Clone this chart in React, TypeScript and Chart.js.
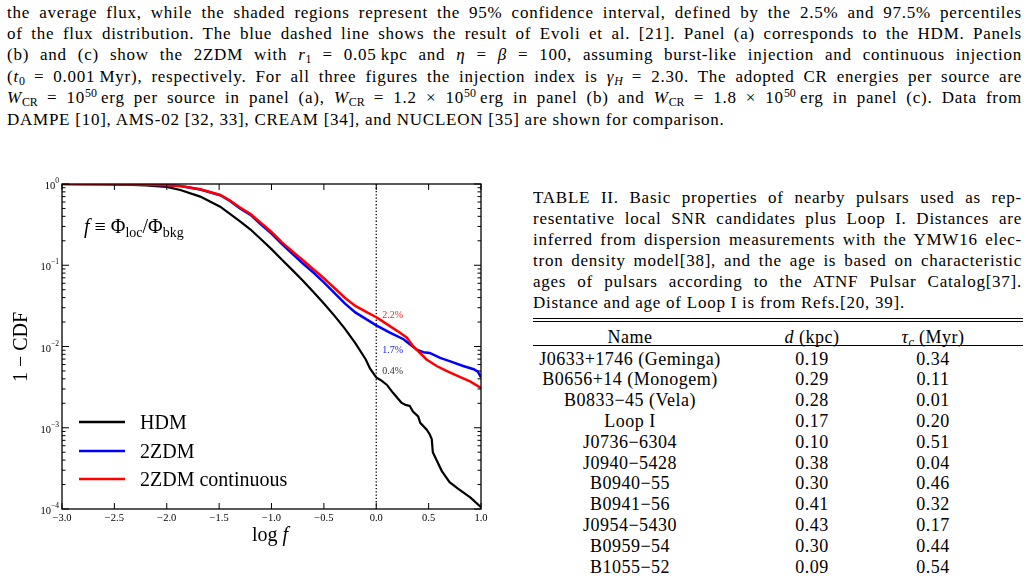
import React, { useEffect, useRef } from "react";
import { Chart, registerables } from "chart.js";

Chart.register(...registerables);

// ---- Data: log f (x) and 1 - CDF (y) for each model ----
const hdmX = [-3.0, -2.6, -2.4, -2.2, -2.0, -1.87, -1.68, -1.49, -1.3, -1.2, -1.1, -1.0, -0.9, -0.8, -0.7, -0.6, -0.5, -0.4, -0.3, -0.2, -0.1, -0.06, 0.0, 0.05, 0.1, 0.16, 0.2, 0.24, 0.28, 0.32, 0.35, 0.4, 0.42, 0.48, 0.51, 0.53, 0.54, 0.58, 0.625, 0.7, 0.78, 0.9, 1.0];
const hdmY = [1, 0.993, 0.982, 0.959, 0.923, 0.843, 0.7, 0.525, 0.347, 0.275, 0.209, 0.158, 0.117, 0.0871, 0.0646, 0.0468, 0.0339, 0.024, 0.0166, 0.011, 0.00692, 0.00537, 0.00417, 0.0038, 0.00339, 0.00269, 0.00234, 0.00204, 0.00191, 0.00186, 0.00158, 0.00138, 0.00115, 0.000955, 0.000832, 0.000724, 0.000501, 0.000389, 0.000295, 0.000214, 0.000178, 0.000138, 0.000105];

const zdmX = [-3.0, -2.5, -2.2, -2.0, -1.87, -1.68, -1.49, -1.4, -1.3, -1.2, -1.1, -1.0, -0.9, -0.8, -0.7, -0.6, -0.5, -0.4, -0.3, -0.2, -0.1, 0.0, 0.13, 0.26, 0.386, 0.45, 0.51, 0.61, 0.7, 0.83, 0.93, 0.97, 1.0];
const zdmY = [1, 0.995, 0.986, 0.966, 0.942, 0.857, 0.728, 0.624, 0.501, 0.417, 0.316, 0.245, 0.182, 0.138, 0.105, 0.0813, 0.0617, 0.0457, 0.0339, 0.0263, 0.0219, 0.0182, 0.0148, 0.0123, 0.00912, 0.00851, 0.00832, 0.00724, 0.00661, 0.00575, 0.00525, 0.0049, 0.00417];

const zdmContX = [-3.0, -2.5, -2.2, -2.0, -1.87, -1.68, -1.49, -1.4, -1.3, -1.2, -1.1, -1.0, -0.9, -0.8, -0.7, -0.6, -0.5, -0.4, -0.3, -0.2, -0.1, 0.0, 0.036, 0.13, 0.227, 0.29, 0.354, 0.418, 0.48, 0.577, 0.67, 0.77, 0.895, 1.0];
const zdmContY = [1, 0.995, 0.986, 0.966, 0.944, 0.861, 0.733, 0.631, 0.513, 0.427, 0.331, 0.257, 0.191, 0.148, 0.115, 0.0891, 0.0692, 0.0525, 0.0398, 0.0316, 0.0269, 0.0229, 0.0214, 0.0178, 0.0148, 0.0129, 0.01, 0.00832, 0.00692, 0.00575, 0.00501, 0.00437, 0.00372, 0.00309];

// Vertical reference at log f = 0
const refLineX = [0, 0];
const refLineY = [0.0001, 1];

// Axis ticks
const xTickValues = [-3.0, -2.5, -2.0, -1.5, -1.0, -0.5, 0.0, 0.5, 1.0];
const xTickLabels = ["\u22123.0", "\u22122.5", "\u22122.0", "\u22121.5", "\u22121.0", "\u22120.5", "0.0", "0.5", "1.0"];
const yTickValues = [1, 0.1, 0.01, 0.001, 0.0001];
const yTickExponents = ["0", "\u22121", "\u22122", "\u22123", "\u22124"];
const yMinorMultipliers = [2, 3, 4, 5, 6, 7, 8, 9];

// Legend & value labels
const seriesNames = ["HDM", "2ZDM", "2ZDM continuous"];
const seriesColors = ["#000000", "#0000ff", "#ff0000"];
const fractionLabels = ["2.2%", "1.7%", "0.4%"];
const fractionColors = ["#ff2020", "#2020ff", "#333333"];

// Table
const pulsarNames = [
  "J0633+1746 (Geminga)",
  "B0656+14 (Monogem)",
  "B0833\u221245 (Vela)",
  "Loop I",
  "J0736\u22126304",
  "J0940\u22125428",
  "B0940\u221255",
  "B0941\u221256",
  "J0954\u22125430",
  "B0959\u221254",
  "B1055\u221252",
];
const pulsarDist = ["0.19", "0.29", "0.28", "0.17", "0.10", "0.38", "0.30", "0.41", "0.43", "0.30", "0.09"];
const pulsarAge = ["0.34", "0.11", "0.01", "0.20", "0.51", "0.04", "0.46", "0.32", "0.17", "0.44", "0.54"];

const SERIF = "'Liberation Serif', 'Times New Roman', serif";

const pts = (xs: number[], ys: number[]) => xs.map((x, i) => ({ x, y: ys[i] }));

const decorPlugin = {
  id: "decor",
  afterDatasetsDraw(chart: any) {
    const { ctx, chartArea: a, scales } = chart;
    const xs = scales.x;
    const ys = scales.y;
    const seg = (x1: number, y1: number, x2: number, y2: number) => {
      ctx.beginPath();
      ctx.moveTo(x1, y1);
      ctx.lineTo(x2, y2);
      ctx.stroke();
    };
    ctx.save();
    ctx.strokeStyle = "#000";
    ctx.fillStyle = "#000";
    ctx.lineWidth = 1.3;
    ctx.strokeRect(a.left, a.top, a.right - a.left, a.bottom - a.top);
    ctx.lineWidth = 1;

    // x ticks (inward, bottom and top) and labels
    ctx.font = `10.5px ${SERIF}`;
    ctx.textAlign = "center";
    ctx.textBaseline = "alphabetic";
    xTickValues.forEach((v, i) => {
      const px = xs.getPixelForValue(v);
      seg(px, a.bottom, px, a.bottom - 6);
      seg(px, a.top, px, a.top + 6);
      ctx.fillText(xTickLabels[i], px, a.bottom + 12);
    });

    // y ticks: decades and minor ticks, both sides
    yTickValues.forEach((v, i) => {
      const py = ys.getPixelForValue(v);
      seg(a.left, py, a.left + 7, py);
      seg(a.right, py, a.right - 7, py);
      if (i > 0) {
        yMinorMultipliers.forEach((m) => {
          const pm = ys.getPixelForValue(m * v);
          seg(a.left, pm, a.left + 3.5, pm);
          seg(a.right, pm, a.right - 3.5, pm);
        });
      }
      // label 10^n
      ctx.font = `7.5px ${SERIF}`;
      const ew = ctx.measureText(yTickExponents[i]).width;
      const xEnd = a.left - 3;
      ctx.textAlign = "left";
      ctx.fillText(yTickExponents[i], xEnd - ew, py - 1);
      ctx.font = `10.5px ${SERIF}`;
      ctx.textAlign = "right";
      ctx.fillText("10", xEnd - ew, py + 5);
    });

    // axis titles
    ctx.font = `20px ${SERIF}`;
    ctx.textAlign = "center";
    ctx.save();
    ctx.translate(27, 177);
    ctx.rotate(-Math.PI / 2);
    ctx.fillText("1 \u2212 CDF", 0, 0);
    ctx.restore();

    ctx.textAlign = "left";
    ctx.font = `20px ${SERIF}`;
    const logW = ctx.measureText("log ").width;
    ctx.font = `italic 20px ${SERIF}`;
    const fW = ctx.measureText("f").width;
    const lx = 270 - (logW + fW) / 2;
    ctx.font = `20px ${SERIF}`;
    ctx.fillText("log ", lx, 371);
    ctx.font = `italic 20px ${SERIF}`;
    ctx.fillText("f", lx + logW, 371);

    // f ≡ Φloc / Φbkg
    let cx = 84;
    const by = 63;
    const piece = (t: string, font: string, dy = 0) => {
      ctx.font = font;
      ctx.fillText(t, cx, by + dy);
      cx += ctx.measureText(t).width;
    };
    piece("f", `italic 20px ${SERIF}`);
    piece(" \u2261 ", `20px ${SERIF}`);
    piece("\u03A6", `20px ${SERIF}`);
    piece("loc", `14px ${SERIF}`, 4);
    piece("/\u03A6", `20px ${SERIF}`);
    piece("bkg", `14px ${SERIF}`, 4);

    // percentage labels at log f = 0
    const fx = xs.getPixelForValue(0) + 6;
    const fy = [148, 183, 204];
    ctx.font = `10px ${SERIF}`;
    fractionLabels.forEach((t, i) => {
      ctx.fillStyle = fractionColors[i];
      ctx.fillText(t, fx, fy[i]);
    });

    // legend
    const ly = [252, 281, 309];
    ctx.lineWidth = 2.5;
    ctx.font = `20px ${SERIF}`;
    seriesNames.forEach((n, i) => {
      ctx.strokeStyle = seriesColors[i];
      seg(79, ly[i], 125, ly[i]);
      ctx.fillStyle = "#000";
      ctx.fillText(n, 140, ly[i] + 7);
    });
    ctx.restore();
  },
};

function CdfChart() {
  const ref = useRef<HTMLCanvasElement>(null);
  useEffect(() => {
    const chart = new Chart(ref.current as HTMLCanvasElement, {
      type: "line",
      data: {
        datasets: [
          { label: seriesNames[2], data: pts(zdmContX, zdmContY), borderColor: seriesColors[2], borderWidth: 2.5 },
          { label: seriesNames[1], data: pts(zdmX, zdmY), borderColor: seriesColors[1], borderWidth: 2.5 },
          { label: seriesNames[0], data: pts(hdmX, hdmY), borderColor: seriesColors[0], borderWidth: 2.2 },
          { label: "ref", data: pts(refLineX, refLineY), borderColor: "#000", borderWidth: 1.3, borderDash: [1.3, 2] },
        ] as any,
      },
      options: {
        responsive: false,
        animation: false,
        devicePixelRatio: 1,
        layout: { padding: { left: 62, top: 14, right: 19, bottom: 41 } },
        elements: { point: { radius: 0 }, line: { tension: 0, fill: false } },
        plugins: { legend: { display: false }, tooltip: { enabled: false } },
        scales: {
          x: { type: "linear", min: -3, max: 1, display: false },
          y: { type: "logarithmic", min: 0.0001, max: 1, display: false },
        },
      } as any,
      plugins: [decorPlugin],
    });
    return () => chart.destroy();
  }, []);
  return (
    <canvas
      ref={ref}
      width={500}
      height={380}
      style={{ position: "absolute", left: 0, top: 170, width: 500, height: 380 }}
    />
  );
}

const subS: React.CSSProperties = { fontSize: "0.7em", verticalAlign: "-0.25em", lineHeight: 0, letterSpacing: 0 };
const supS: React.CSSProperties = { fontSize: "0.7em", verticalAlign: "0.5em", lineHeight: 0, letterSpacing: 0 };

function Line(props: { top: number; left: number; width: number; last?: boolean; children: React.ReactNode }) {
  return (
    <div
      style={{
        position: "absolute",
        top: props.top,
        left: props.left,
        width: props.width,
        height: 21,
        lineHeight: "21px",
        fontSize: 17,
        letterSpacing: "0.75px",
        textAlign: props.last ? "left" : "justify",
        textAlignLast: props.last ? "auto" : "justify",
        whiteSpace: "normal",
      }}
    >
      {props.children}
    </div>
  );
}

const W = () => (
  <>
    <i>W</i>
    <sub style={subS}>CR</sub>
  </>
);

export default function App() {
  const bodyTop = 1.5;
  const pitch = 21.4;
  const capTop = 186.5;
  const rowTop = 348.5;
  const rowPitch = 20.8;
  return (
    <div
      style={{
        position: "absolute",
        left: 0,
        top: 0,
        width: 1029,
        height: 583,
        overflow: "hidden",
        background: "#fff",
        color: "#000",
        fontFamily: SERIF,
      }}
    >
      <Line top={bodyTop} left={7} width={1015}>
        the average flux, while the shaded regions represent the 95% confidence interval, defined by the 2.5% and 97.5% percentiles
      </Line>
      <Line top={bodyTop + pitch} left={7} width={1015}>
        of the flux distribution. The blue dashed line shows the result of Evoli et al. [21]. Panel (a) corresponds to the HDM. Panels
      </Line>
      <Line top={bodyTop + 2 * pitch} left={7} width={1015}>
        (b) and (c) show the 2ZDM with <i>r</i>
        <sub style={subS}>1</sub> = 0.05{"\u2009"}kpc and <i>{"\u03B7"}</i> = <i>{"\u03B2"}</i> = 100, assuming burst-like injection and continuous injection
      </Line>
      <Line top={bodyTop + 3 * pitch} left={7} width={1015}>
        (<i>t</i>
        <sub style={subS}>0</sub> = 0.001{"\u2009"}Myr), respectively. For all three figures the injection index is <i>{"\u03B3"}</i>
        <sub style={subS}>
          <i>H</i>
        </sub>{" "}
        = 2.30. The adopted CR energies per source are
      </Line>
      <Line top={bodyTop + 4 * pitch} left={7} width={1015}>
        <W /> = 10<sup style={supS}>50</sup>
        {"\u2009"}erg per source in panel (a), <W /> = 1.2 × 10<sup style={supS}>50</sup>
        {"\u2009"}erg in panel (b) and <W /> = 1.8 × 10<sup style={supS}>50</sup>
        {"\u2009"}erg in panel (c). Data from
      </Line>
      <Line top={bodyTop + 5 * pitch} left={7} width={1015} last>
        DAMPE [10], AMS-02 [32, 33], CREAM [34], and NUCLEON [35] are shown for comparison.
      </Line>

      <CdfChart />

      <Line top={capTop} left={533} width={489}>
        TABLE II. Basic properties of nearby pulsars used as rep-
      </Line>
      <Line top={capTop + 21} left={533} width={489}>
        resentative local SNR candidates plus Loop I. Distances are
      </Line>
      <Line top={capTop + 42} left={533} width={489}>
        inferred from dispersion measurements with the YMW16 elec-
      </Line>
      <Line top={capTop + 63} left={533} width={489}>
        tron density model[38], and the age is based on characteristic
      </Line>
      <Line top={capTop + 84} left={533} width={489}>
        ages of pulsars according to the ATNF Pulsar Catalog[37].
      </Line>
      <Line top={capTop + 105} left={533} width={489} last>
        Distance and age of Loop I is from Refs.[20, 39].
      </Line>

      <div style={{ position: "absolute", left: 533, top: 318, width: 490, height: 1, background: "#000" }} />
      <div style={{ position: "absolute", left: 533, top: 321, width: 490, height: 1, background: "#000" }} />
      <div style={{ position: "absolute", left: 533, top: 345, width: 490, height: 1, background: "#000" }} />

      {[
        { c: 630, t: <>Name</> },
        { c: 812, t: <><i>d</i> (kpc)</> },
        { c: 933, t: <><i>{"\u03C4"}</i><sub style={subS}><i>c</i></sub> (Myr)</> },
      ].map((h, i) => (
        <div
          key={i}
          style={{ position: "absolute", left: h.c - 100, width: 200, top: 326.5, height: 21, lineHeight: "21px", fontSize: 18, letterSpacing: "0.5px", textAlign: "center" }}
        >
          {h.t}
        </div>
      ))}

      {pulsarNames.map((n, i) => (
        <React.Fragment key={n}>
          {[
            { c: 630, t: n },
            { c: 812, t: pulsarDist[i] },
            { c: 933, t: pulsarAge[i] },
          ].map((cell, j) => (
            <div
              key={j}
              style={{
                position: "absolute",
                left: cell.c - 110,
                width: 220,
                top: rowTop + i * rowPitch,
                height: 21,
                lineHeight: "21px",
                fontSize: 18,
                letterSpacing: "0.5px",
                textAlign: "center",
                whiteSpace: "nowrap",
              }}
            >
              {cell.t}
            </div>
          ))}
        </React.Fragment>
      ))}
    </div>
  );
}
